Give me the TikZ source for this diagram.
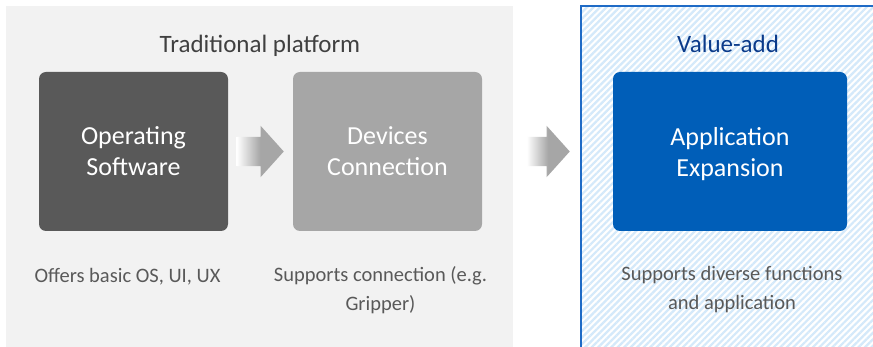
\documentclass[tikz,border=0pt]{standalone}
\usepackage{fontspec}
\setmainfont{Carlito}
\usepackage{xcolor}
\usepackage{tikz}
\usetikzlibrary{positioning,shapes.arrows,patterns.meta}

\definecolor{bggray}{HTML}{F2F2F2}
\definecolor{darkbox}{HTML}{595959}
\definecolor{midbox}{HTML}{A6A6A6}
\definecolor{bluebox}{HTML}{005EB8}
\definecolor{frameblue}{HTML}{1F6BC6}
\definecolor{navy}{HTML}{0A3A8A}
\definecolor{captext}{HTML}{595959}
\definecolor{titletext}{HTML}{404040}
\definecolor{hatchblue}{HTML}{D4E9FA}
\definecolor{arrowgray}{HTML}{A6A6A6}

\pgfdeclarehorizontalshading{arrowfade}{100bp}{color(0bp)=(white); color(25bp)=(white); color(50bp)=(arrowgray); color(100bp)=(arrowgray)}

\tikzset{
  box/.style={rounded corners=7pt, minimum height=159pt, inner sep=0pt, text depth=-4pt,
    text=white, align=center, font=\fontsize{26}{31}\selectfont},
  caption/.style={text=captext, align=center, font=\fontsize{20.5}{29}\selectfont},
  heading/.style={anchor=base, font=\fontsize{25}{30}\selectfont},
  blockarrow/.style={single arrow, shading=arrowfade, inner xsep=0pt, inner ysep=14.5pt,
    single arrow head extend=11pt, single arrow tip angle=96, anchor=tip}
}

\begin{document}
\begin{tikzpicture}[x=1pt,y=-1pt]
\clip (0,0) rectangle (873,347);
\fill[white] (0,0) rectangle (873,347);

% traditional platform
\fill[bggray] (6,6) rectangle (513,352);
% value-add frame
\fill[white] (581,6) rectangle (880,352);
\fill[pattern={Lines[angle=45,distance=4.6pt,line width=2.2pt]}, pattern color=hatchblue] (581,6) rectangle (880,352);
\draw[frameblue, line width=2pt] (581,352) -- (581,6) -- (880,6);

\node[heading, text=titletext](trad) at (260,53) {Traditional platform};
\node[heading, text=navy](value) at (728,53) {Value-add};

\node[box, fill=darkbox, minimum width=189pt](os) at (133.5,151.5) {Operating\\Software};
\node[box, fill=midbox, minimum width=189pt](dev) at (387.5,151.5) {Devices\\Connection};
\node[box, fill=bluebox, minimum width=234pt](app) at (730,151.5) {Application\\Expansion};

\node[blockarrow, minimum height=47pt](arr1) at (284,151.5) {};
\node[blockarrow, minimum height=43pt](arr2) at (570,151.5) {};

\node[caption, anchor=base](c1) at (127.5,283) {Offers basic OS, UI, UX};
\node[caption](c2) at (380.5,290) {Supports connection (e.g.\\Gripper)};
\node[caption](c3) at (732,290) {Supports diverse functions\\and application};

\end{tikzpicture}
\end{document}
